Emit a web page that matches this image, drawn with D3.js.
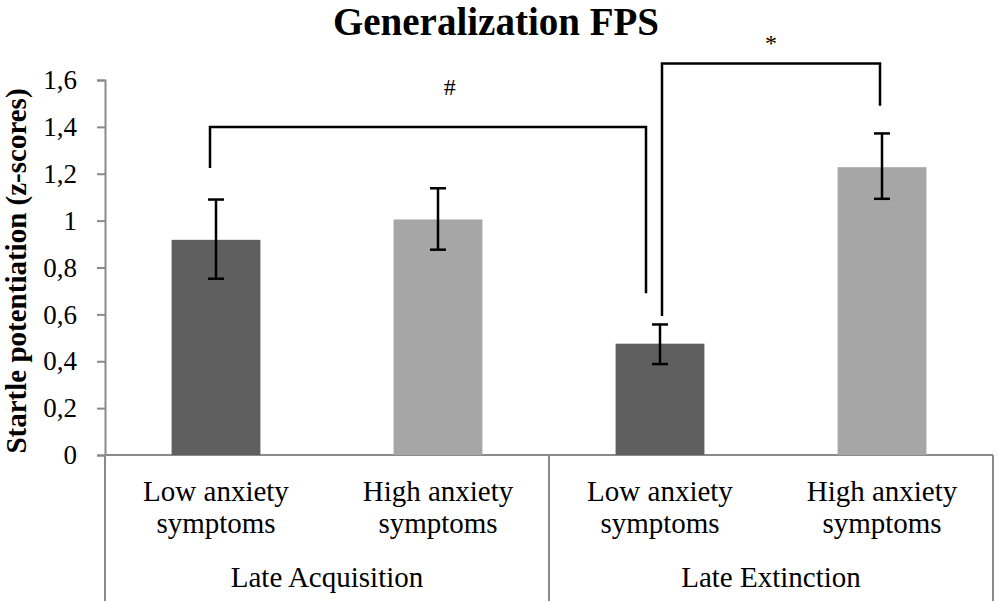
<!DOCTYPE html>
<html>
<head>
<meta charset="utf-8">
<script src="https://cdn.jsdelivr.net/npm/d3@7/dist/d3.min.js"></script>
<style>
  html, body { margin: 0; padding: 0; background: #fff; }
  text { font-family: "Liberation Serif", "Times New Roman", serif; fill: #000; }
</style>
</head>
<body>
<svg id="chart" width="1000" height="601"></svg>
<script>
  "use strict";

  // values
  var categories = ["LA-low", "LA-high", "LE-low", "LE-high"];
  var catLines = [["Low anxiety", "symptoms"], ["High anxiety", "symptoms"],
                  ["Low anxiety", "symptoms"], ["High anxiety", "symptoms"]];
  var groups = ["Late Acquisition", "Late Extinction"];
  var means = [0.918, 1.005, 0.475, 1.228];
  var errLow = [0.752, 0.876, 0.388, 1.093];
  var errHigh = [1.090, 1.138, 0.557, 1.372];
  var shade = ["dark", "light", "dark", "light"];
  var yTicks = [0, 0.2, 0.4, 0.6, 0.8, 1, 1.2, 1.4, 1.6];

  // significance brackets: from/to category, leg ends and top in data units
  var brackets = [
    { from: 0, to: 2, y0: 1.225, top: 1.40, y1: 0.69, label: "#", dx0: -6, dx1: -14, lx: 0.55, ly: 1.535 },
    { from: 2, to: 3, y0: 0.593, top: 1.67, y1: 1.49, label: "*", dx0: 2, dx1: -2, lx: 0.5, ly: 1.725 }
  ];

(function (d3) {
  var svg = d3.select("#chart");
  var left = 105, right = 993, plotTop = 80, bottom = 455;

  var x = d3.scaleBand().domain(categories).range([left, right])
      .paddingInner(0.6).paddingOuter(0.3);
  var y = d3.scaleLinear().domain([0, 1.6]).range([bottom, plotTop]);
  var color = { dark: "#5f5f5f", light: "#a6a6a6" };
  var axisColor = "#8a8a8a";

  // title
  svg.append("text")
      .attr("x", 496).attr("y", 35)
      .attr("text-anchor", "middle")
      .style("font-size", "39px").style("font-weight", "bold")
      .text("Generalization FPS");

  // y axis label
  svg.append("text")
      .attr("transform", "translate(26,271) rotate(-90)")
      .attr("text-anchor", "middle")
      .style("font-size", "29px").style("font-weight", "bold")
      .text("Startle potentiation  (z-scores)");

  // y axis
  var yAxis = d3.axisLeft(y).tickValues(yTicks).tickSize(8).tickPadding(20)
      .tickFormat(function(d) { return String(d).replace(".", ","); });
  var gy = svg.append("g").attr("transform", "translate(" + left + ",0)").call(yAxis);
  gy.select(".domain").attr("stroke", axisColor).attr("stroke-width", 2);
  gy.selectAll(".tick line").attr("stroke", axisColor).attr("stroke-width", 2);
  gy.selectAll(".tick text")
      .style("font-size", "27px")
      .style("font-family", "'Liberation Serif', serif")
      .attr("fill", "#000");

  // bottom axis + category divisions
  svg.append("line")
      .attr("x1", left).attr("x2", right).attr("y1", bottom).attr("y2", bottom)
      .attr("stroke", axisColor).attr("stroke-width", 2);
  var step = x.step();
  var edges = [0, 2, 4].map(function(i) { return x.range()[0] + i * step; });
  svg.selectAll("line.div").data(edges).enter().append("line")
      .attr("class", "div")
      .attr("x1", function(d) { return d; }).attr("x2", function(d) { return d; })
      .attr("y1", bottom).attr("y2", 601)
      .attr("stroke", axisColor).attr("stroke-width", 2);

  // bars
  svg.selectAll("rect.bar").data(categories).enter().append("rect")
      .attr("class", "bar")
      .attr("x", function(d) { return x(d); })
      .attr("width", x.bandwidth())
      .attr("y", function(d, i) { return y(means[i]); })
      .attr("height", function(d, i) { return y(0) - y(means[i]); })
      .attr("fill", function(d, i) { return color[shade[i]]; });

  // error bars
  var err = svg.append("g").attr("stroke", "#000").attr("stroke-width", 2.5);
  categories.forEach(function(c, i) {
    var cx = x(c) + x.bandwidth() / 2;
    err.append("line").attr("x1", cx).attr("x2", cx)
        .attr("y1", y(errLow[i])).attr("y2", y(errHigh[i]));
    [errLow[i], errHigh[i]].forEach(function(v) {
      err.append("line").attr("x1", cx - 8).attr("x2", cx + 8)
          .attr("y1", y(v)).attr("y2", y(v));
    });
  });

  // category labels
  categories.forEach(function(c, i) {
    var cx = x(c) + x.bandwidth() / 2;
    var t = svg.append("text")
        .attr("x", cx).attr("y", 501)
        .attr("text-anchor", "middle")
        .style("font-size", "29px");
    catLines[i].forEach(function(line, j) {
      t.append("tspan").attr("x", cx).attr("dy", j === 0 ? 0 : 32).text(line);
    });
  });

  // group labels
  groups.forEach(function(g, i) {
    svg.append("text")
        .attr("x", (edges[i] + edges[i + 1]) / 2)
        .attr("y", 587)
        .attr("text-anchor", "middle")
        .style("font-size", "29px")
        .text(g);
  });

  // significance brackets
  brackets.forEach(function(b) {
    var xa = x(categories[b.from]) + x.bandwidth() / 2 + b.dx0;
    var xb = x(categories[b.to]) + x.bandwidth() / 2 + b.dx1;
    svg.append("path")
        .attr("d", d3.line()([[xa, y(b.y0)], [xa, y(b.top)], [xb, y(b.top)], [xb, y(b.y1)]]))
        .attr("fill", "none").attr("stroke", "#000").attr("stroke-width", 2.5);
    svg.append("text")
        .attr("x", xa + (xb - xa) * b.lx)
        .attr("y", y(b.ly))
        .attr("text-anchor", "middle")
        .style("font-size", "24px")
        .text(b.label);
  });
}(d3));
</script>
</body>
</html>
